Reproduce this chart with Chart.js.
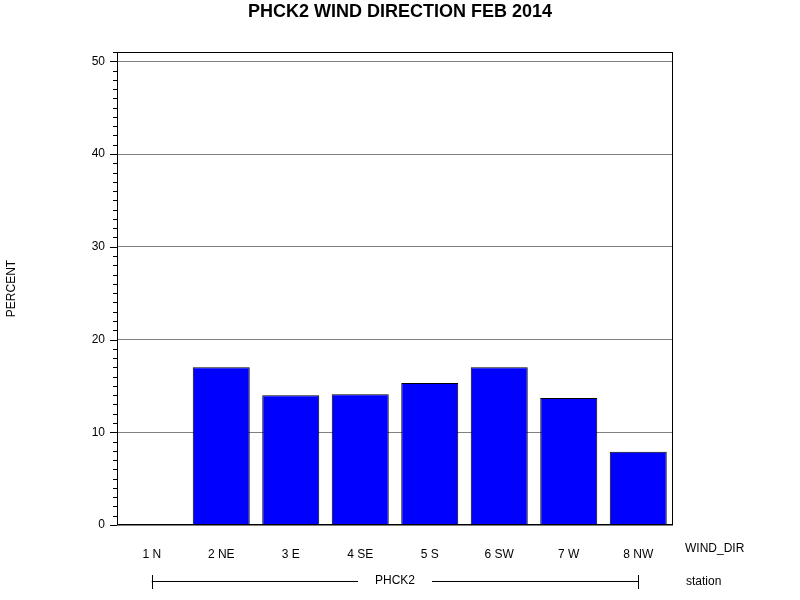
<!DOCTYPE html>
<html><head><script src="https://cdn.jsdelivr.net/npm/chart.js@4"></script>
<style>body{margin:0;background:#fff}</style></head>
<body><canvas id="c" width="800" height="600"></canvas>
<script>
const categories=["1 N","2 NE","3 E","4 SE","5 S","6 SW","7 W","8 NW"];
const percent=[0.1,17.0,14.0,14.1,15.3,17.0,13.7,7.9];
const yTicks=[0,10,20,30,40,50];
const F='"Liberation Sans", Arial, sans-serif';
const deco={id:'deco',afterDraw(ch){
 const c=ch.ctx,a=ch.chartArea,y=ch.scales.y;
 c.save();c.strokeStyle='#000';c.lineWidth=1;
 for(let v=0;v<=51;v++){const p=Math.round(y.getPixelForValue(v))+0.5;const L=v%10===0?7:4;
  c.beginPath();c.moveTo(a.left-L,p);c.lineTo(a.left,p);c.stroke();}
 c.strokeRect(a.left+0.5,a.top+0.5,a.right-a.left-1,a.bottom-a.top-1);
 c.fillStyle='#000';c.font='bold 18px '+F;c.textAlign='center';c.textBaseline='middle';
 c.fillText('PHCK2 WIND DIRECTION FEB 2014',400,12);
 c.font='12px '+F;c.textAlign='left';
 c.fillText('WIND_DIR',685,549);c.fillText('station',686,582);
 c.textAlign='center';c.fillText('PHCK2',395,581);
 const x0=ch.scales.x.getPixelForValue(0),x1=ch.scales.x.getPixelForValue(7);
 c.beginPath();c.moveTo(x0,581.5);c.lineTo(358,581.5);c.moveTo(432,581.5);c.lineTo(x1,581.5);
 c.moveTo(Math.round(x0)+0.5,575);c.lineTo(Math.round(x0)+0.5,589);c.moveTo(Math.round(x1)+0.5,575);c.lineTo(Math.round(x1)+0.5,589);c.stroke();
 c.restore();}};
new Chart(document.getElementById('c'),{type:'bar',
 data:{labels:categories,datasets:[{data:percent,backgroundColor:'#0000ff',borderColor:'#000',borderWidth:1,barPercentage:0.82,categoryPercentage:1}]},
 options:{responsive:false,animation:false,
  layout:{padding:{left:0,right:127,top:52,bottom:0}},
  plugins:{legend:{display:false},tooltip:{enabled:false}},
  scales:{
   x:{grid:{display:false},border:{display:false},ticks:{color:'#000',font:{family:F,size:12},padding:14},afterFit(s){s.height=75;}},
   y:{min:0,max:51,afterBuildTicks(s){s.ticks=yTicks.map(v=>({value:v}));},
      grid:{color:'#808080',drawTicks:false},border:{display:false},
      ticks:{color:'#000',font:{family:F,size:12},padding:12},
      title:{display:true,text:'PERCENT',color:'#000',font:{family:F,size:12}},
      afterFit(s){s.width=117;}}}},
 plugins:[deco]});
</script></body></html>
